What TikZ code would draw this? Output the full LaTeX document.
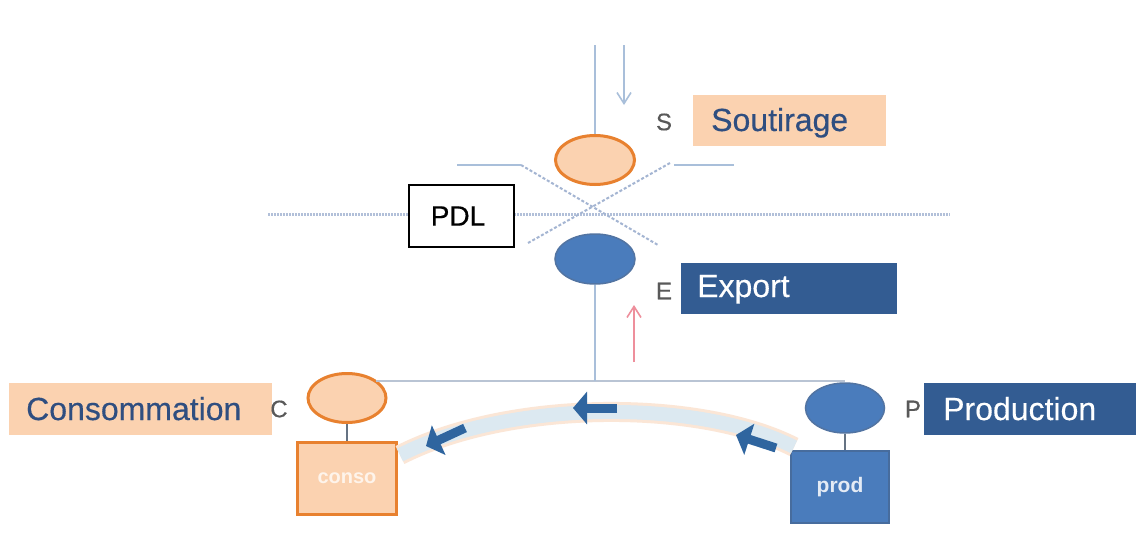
\documentclass[tikz,border=0pt]{standalone}
\usepackage{fontspec}
\setmainfont{Liberation Sans}
\newfontfamily\lblfont[FakeBold=0.35]{Liberation Sans}
\usetikzlibrary{arrows.meta,shapes.geometric}
\definecolor{peach}{HTML}{FBD2B0}
\definecolor{orng}{HTML}{E8812F}
\definecolor{blu}{HTML}{4A7CBC}
\definecolor{navy}{HTML}{335C92}
\definecolor{wire}{HTML}{A9BFDA}
\definecolor{busw}{HTML}{B9C4D4}
\definecolor{dots}{HTML}{A4B5D2}
\definecolor{txtb}{HTML}{2F4E80}
\definecolor{flow}{HTML}{DCE9F1}
\definecolor{rim}{HTML}{FBE6D6}
\definecolor{darr}{HTML}{2F659F}
\definecolor{redarr}{HTML}{EE8F9C}
\newcommand{\fs}[1]{\fontsize{#1}{#1}\selectfont}
\tikzset{
  x=1pt,y=-1pt,
  wireln/.style={draw=wire,line width=2pt},
  busln/.style={draw=busw,line width=2.2pt},
  dotln/.style={draw=dots,line width=2pt,dash pattern=on 3pt off 2pt},
  stemln/.style={draw=black!40!wire,line width=1.2pt},
  pell/.style={ellipse,draw=orng,line width=3pt,fill=peach,minimum width=79pt,minimum height=49pt,inner sep=0pt},
  bell/.style={ellipse,draw=navy!85,line width=1.5pt,fill=blu,minimum width=80pt,minimum height=50pt,inner sep=0pt},
  ptext/.style={font=\lblfont\fs{32},text=txtb,anchor=base west,inner sep=0pt},
  btext/.style={font=\lblfont\fs{32},text=white,anchor=base west,inner sep=0pt},
  letter/.style={font=\lblfont\fs{24},text=black!65,inner sep=0pt},
  flowarr/.style={-{Triangle[length=14pt,width=32pt]},draw=darr,line width=9pt},
  thinarr/.style={-{Straight Barb[length=11pt,width=14pt]},line width=1.6pt},
}
\begin{document}
\begin{tikzpicture}
\useasboundingbox (0,0) rectangle (1136,549);
\fill[white] (0,0) rectangle (1136,549);
% horizontal PDL line and X
\coordinate (hl) at (268,214);
\coordinate (hr) at (950,214);
\draw[dotln,draw=dots!85,line width=3pt,dash pattern=on 2pt off 1pt] (hl) -- (hr);
\coordinate (xa) at (521,165);
\coordinate (xb) at (658,245);
\coordinate (xc) at (528,243);
\coordinate (xd) at (670,163);
\coordinate (ta) at (457,165);
\coordinate (tb) at (674,165);
\coordinate (tc) at (734,165);
\draw[dotln] (xa) -- (xb);
\draw[dotln] (xc) -- (xd);
\draw[wireln] (ta) -- (xa);
\draw[wireln] (tb) -- (tc);
% PDL
\node[draw=black,line width=2pt,fill=white,minimum width=105pt,minimum height=62pt,inner sep=0pt,font=\lblfont\fs{28}] (pdl) at (461,216) {\raisebox{-3pt}{PDL\hspace{6pt}}};
% ellipses
\node[pell] (es) at (595,160) {};
\node[bell] (ee) at (595,259) {};
\node[pell,minimum width=78pt,minimum height=49pt] (ec) at (347,398) {};
\node[bell,minimum width=79pt,minimum height=50pt] (ep) at (845,408) {};
% top wire and arrows
\coordinate (top) at (595,45);
\draw[wireln] (top) -- (es.north);
\coordinate (ia) at (624,45);
\coordinate (ib) at (624,105);
\draw[thinarr,draw=wire] (ia) -- (ib);
\coordinate (ra) at (634,362);
\coordinate (rb) at (634,305);
\draw[thinarr,draw=redarr] (ra) -- (rb);
% bus
\coordinate (jn) at (595,381);
\draw[busln] (ec.north east |- jn) -- (ep.north |- jn);
\draw[wireln] (ee.south) -- (jn);
% boxes
\node[draw=orng,line width=3pt,fill=peach,minimum width=99pt,minimum height=72pt,inner sep=0pt,font=\fs{20}\bfseries,text=white!75!peach] (conso) at (347,478) {conso};
\node[draw=navy!90,line width=1.5pt,fill=blu,minimum width=98pt,minimum height=72pt,inner sep=0pt,font=\fs{21}\bfseries,text=white!85!blu] (prod) at (840,487) {prod};
\draw[stemln] (ec.south) -- (conso.north);
\draw[stemln] (ep.south) -- (ep.south |- prod.north);
% flow band
\coordinate (fa) at (794,447);
\coordinate (fb) at (400,455);
\draw[rim,line width=20pt] (fa) .. controls (700,399) and (510,399) .. (fb);
\draw[flow,line width=14pt] (fa) .. controls (700,399) and (510,399) .. (fb);
\coordinate (a1s) at (776,448); \coordinate (a1e) at (736,435);
\coordinate (a2s) at (617,408); \coordinate (a2e) at (573,408);
\coordinate (a3s) at (465,428); \coordinate (a3e) at (426,446);
\draw[flowarr] (a1s) -- (a1e);
\draw[flowarr] (a2s) -- (a2e);
\draw[flowarr] (a3s) -- (a3e);
% labels
\node[fill=peach,minimum width=193pt,minimum height=51pt,inner sep=0pt] (ls) at (789,120) {};
\node[ptext] (lst) at (711,131) {Soutirage};
\node[fill=navy,minimum width=216pt,minimum height=51pt,inner sep=0pt] (le) at (789,288) {};
\node[btext] (let) at (697,297) {Export};
\node[fill=peach,minimum width=263pt,minimum height=52pt,inner sep=0pt] (lc) at (140,409) {};
\node[ptext] (lct) at (26,420) {Consommation};
\node[fill=navy,minimum width=212pt,minimum height=52pt,inner sep=0pt] (lp) at (1030,409) {};
\node[btext] (lpt) at (943,420) {Production};
% letters
\node[letter] (ts) at (664,122) {S};
\node[letter] (te) at (664,291) {E};
\node[letter] (tc2) at (279,409) {C};
\node[letter] (tp) at (913,409) {P};
\end{tikzpicture}
\end{document}
